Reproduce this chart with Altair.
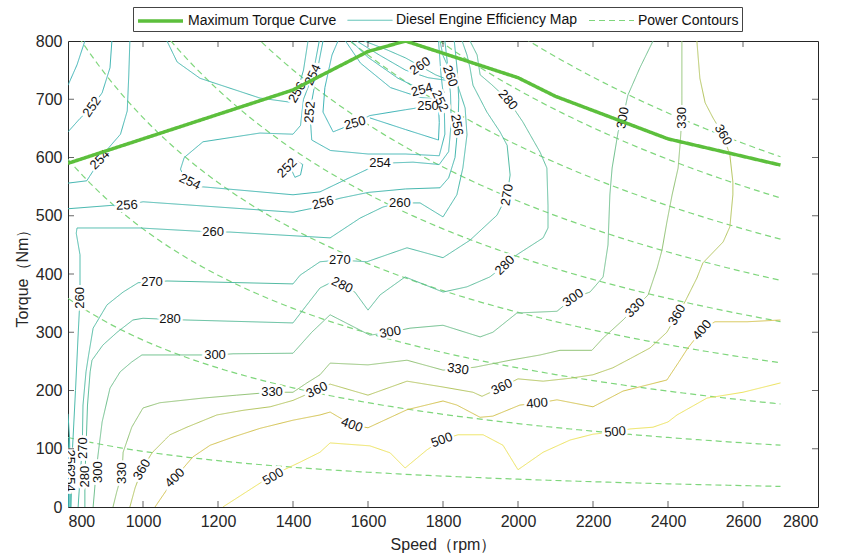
import altair as alt
import pandas as pd

# ---------------- axis ticks ----------------
speed_ticks = list(range(800, 2801, 200))
torque_ticks = list(range(0, 801, 100))

# ---------------- maximum torque curve ----------------
max_speed = [800, 1400, 1600, 1700, 2000, 2100, 2400, 2700]
max_torque = [590, 716, 782, 800, 737, 705, 632, 587]

# ---------------- constant power lines (kW) ----------------
power_levels = [10, 30, 50, 70, 90, 110, 130, 150, 170]
power_speed = list(range(800, 2701, 20))

# ---------------- BSFC contour lines (g/kWh): (speed rpm, torque Nm) ----------------
c250a = [(1520, 800), (1504, 776), (1485, 720), (1480, 678), (1507, 644), (1565, 659), (1605, 672),
         (1700, 682), (1760, 688), (1788, 690), (1790, 660), (1788, 630), (1700, 648), (1605, 668)]
c250b = [(800, 724), (824, 759), (845, 800)]

c252a = [(917, 800), (912, 754), (891, 711), (864, 687), (832, 667), (800, 644)]
c252b = [(1480, 800), (1462, 740), (1445, 678), (1450, 630), (1500, 612), (1600, 606), (1700, 606),
         (1790, 603), (1805, 640), (1803, 697), (1795, 740), (1788, 800)]
c252c = [(1398, 576), (1410, 594), (1426, 588), (1420, 570), (1405, 566), (1398, 576)]
c252d = [(1540, 800), (1580, 762), (1660, 720), (1740, 703), (1790, 700)]
c252e = [(801, 0), (801, 40), (800, 70)]

c254a = [(800, 556), (850, 560), (868, 578), (885, 596), (905, 614), (940, 640), (958, 680), (962, 740), (965, 800)]
c254b = [(1470, 800), (1453, 742), (1428, 700), (1420, 655), (1400, 640), (1312, 642), (1160, 627), (1110, 600),
         (1100, 580), (1110, 565), (1125, 558), (1150, 550), (1171, 549), (1400, 536), (1472, 541), (1540, 562),
         (1632, 590), (1720, 592), (1790, 588), (1815, 610), (1822, 660), (1820, 710), (1812, 760), (1805, 800)]
c254c = [(1555, 800), (1600, 772), (1680, 736), (1744, 716), (1805, 712)]
c254d = [(803, 0), (803, 50), (801, 100), (800, 120)]

c256a = [(800, 512), (920, 518), (957, 518), (1000, 524), (1400, 506), (1453, 513), (1480, 522), (1525, 530),
         (1600, 540), (1700, 546), (1792, 548), (1815, 565), (1832, 600), (1840, 656), (1842, 700), (1838, 750),
         (1830, 800)]
c256b = [(1064, 800), (1091, 764), (1152, 736), (1312, 702), (1392, 695), (1411, 712), (1428, 750), (1440, 800)]
c256c = [(1570, 800), (1630, 776), (1700, 750), (1760, 737), (1836, 730)]
c256d = [(806, 0), (806, 60), (804, 120), (800, 160)]

c260a = [(808, 0), (812, 100), (820, 200), (827, 295), (832, 359), (832, 433), (822, 470), (824, 479), (992, 479),
         (1187, 472), (1232, 472), (1472, 463), (1499, 462), (1579, 496), (1640, 515), (1685, 522), (1739, 522),
         (1800, 498), (1837, 536), (1853, 582), (1864, 639), (1859, 685), (1840, 722), (1819, 748), (1800, 775),
         (1792, 800)]
c260b = [(1590, 800), (1650, 785), (1700, 771), (1739, 757), (1780, 742), (1835, 728)]

c270 = [(827, 0), (832, 50), (838, 101), (840, 175), (848, 232), (855, 261), (867, 307), (904, 347), (947, 369),
        (987, 385), (1024, 386), (1064, 388), (1400, 383), (1419, 398), (1472, 421), (1525, 424), (1597, 421),
        (1704, 445), (1800, 428), (1872, 458), (1944, 501), (1971, 535), (1979, 570), (1971, 621), (1952, 644),
        (1917, 678), (1880, 724), (1872, 754), (1864, 776), (1851, 800)]

c280 = [(845, 0), (845, 52), (848, 100), (852, 175), (859, 232), (864, 252), (893, 278), (931, 300), (973, 321),
        (1000, 324), (1072, 322), (1117, 321), (1400, 316), (1437, 347), (1472, 376), (1500, 385), (1531, 381),
        (1565, 369), (1600, 338), (1632, 364), (1699, 395), (1800, 369), (1864, 378), (1925, 395), (1965, 415),
        (1997, 433), (2067, 462), (2080, 479), (2080, 518), (2077, 582), (2059, 609), (2013, 661), (1973, 699),
        (1930, 725), (1899, 742), (1891, 776), (1872, 800)]

c300 = [(867, 0), (875, 60), (880, 89), (891, 146), (912, 204), (939, 232), (970, 249), (997, 261), (1192, 261),
        (1240, 263), (1400, 264), (1450, 300), (1499, 330), (1605, 295), (1659, 300), (1712, 307), (1800, 312),
        (1899, 292), (1933, 300), (1997, 333), (2104, 336), (2147, 359), (2192, 369), (2227, 395), (2240, 450),
        (2245, 536), (2251, 582), (2267, 644), (2280, 668), (2293, 707), (2325, 754), (2360, 800)]

c330 = [(920, 0), (930, 26), (944, 58), (947, 94), (970, 137), (1000, 170), (1045, 179), (1160, 187), (1250, 192),
        (1344, 197), (1400, 197), (1437, 213), (1472, 227), (1499, 247), (1600, 244), (1704, 252), (1800, 235),
        (1840, 237), (1885, 240), (1979, 252), (2059, 261), (2112, 269), (2197, 269), (2227, 290), (2280, 321),
        (2312, 342), (2347, 364), (2371, 410), (2384, 441), (2397, 489), (2411, 536), (2427, 582), (2432, 621),
        (2437, 668), (2437, 707), (2437, 800)]

c360 = [(965, 0), (979, 33), (997, 64), (1024, 93), (1072, 124), (1117, 137), (1197, 158), (1267, 166),
        (1339, 172), (1400, 183), (1464, 201), (1499, 211), (1600, 192), (1704, 216), (1800, 206), (1880, 197),
        (1904, 190), (1957, 206), (2000, 220), (2067, 216), (2139, 221), (2200, 227), (2253, 239), (2300, 255),
        (2352, 273), (2397, 300), (2424, 330), (2445, 352), (2477, 393), (2493, 419), (2547, 455), (2565, 481),
        (2573, 536), (2573, 558), (2565, 604), (2547, 639), (2520, 668), (2499, 694), (2485, 736), (2477, 800)]

c400 = [(1032, 0), (1085, 50), (1133, 86), (1179, 106), (1240, 120), (1312, 135), (1400, 149), (1472, 158),
        (1499, 163), (1557, 141), (1600, 136), (1704, 167), (1800, 182), (1837, 175), (1899, 154), (1933, 156),
        (2005, 175), (2051, 178), (2104, 184), (2200, 172), (2280, 199), (2397, 218), (2430, 250), (2453, 273),
        (2491, 304), (2525, 318), (2611, 318), (2700, 321)]

c500 = [(1213, 0), (1312, 41), (1347, 55), (1419, 77), (1472, 94), (1499, 110), (1605, 105), (1659, 93),
        (1699, 67), (1757, 98), (1797, 115), (1840, 124), (1907, 124), (1960, 106), (2000, 64), (2067, 94),
        (2139, 115), (2200, 125), (2259, 129), (2299, 134), (2360, 137), (2400, 146), (2424, 158), (2504, 187),
        (2600, 197), (2700, 213)]

contour_segments = [
    (250, c250a), (250, c250b),
    (252, c252a), (252, c252b), (252, c252c), (252, c252d), (252, c252e),
    (254, c254a), (254, c254b), (254, c254c), (254, c254d),
    (256, c256a), (256, c256b), (256, c256c), (256, c256d),
    (260, c260a), (260, c260b),
    (270, c270), (280, c280), (300, c300), (330, c330), (360, c360), (400, c400), (500, c500),
]

levels = [250, 252, 254, 256, 260, 270, 280, 300, 330, 360, 400, 500]
level_colors = ["#3bb3b6", "#3db4b3", "#3fb5b0", "#42b6ad", "#46b8a9", "#4fbaa2", "#5abc9a",
                "#6ebf8c", "#91c274", "#b4c55e", "#d3c24d", "#ede35c"]

# contour labels: text, speed, torque, rotation (deg, clockwise)
labels = [
    ("252", 864, 687, -55), ("254", 885, 596, -45), ("256", 1411, 712, -60), ("254", 1453, 742, -65),
    ("252", 1445, 678, -85), ("252", 1384, 582, -45), ("254", 1125, 558, 25), ("256", 957, 518, -3),
    ("260", 1187, 472, 0), ("270", 1024, 386, 0), ("280", 1072, 322, 0), ("300", 1192, 261, 0),
    ("330", 1344, 197, 0), ("360", 1464, 201, -25), ("400", 1557, 141, 20), ("500", 1797, 115, -20),
    ("330", 1840, 237, 8), ("360", 1957, 206, -25), ("400", 2051, 178, -5), ("500", 2259, 129, -5),
    ("400", 2491, 304, -50), ("360", 2424, 330, -60), ("330", 2312, 342, -45), ("300", 2147, 359, -35),
    ("300", 1659, 300, -10), ("280", 1531, 381, 25), ("270", 1525, 424, 0), ("280", 1965, 415, -45),
    ("270", 1971, 536, -80), ("280", 1973, 699, 50), ("260", 1685, 522, 0), ("256", 1480, 522, -15),
    ("254", 1632, 590, 0), ("250", 1565, 659, -15), ("250", 1760, 688, 0), ("254", 1744, 716, -15),
    ("260", 1739, 757, -35), ("260", 1819, 740, 70), ("252", 1792, 697, 65), ("256", 1837, 656, 80),
    ("300", 2280, 668, -80), ("330", 2437, 668, -90), ("360", 2547, 639, 60), ("260", 832, 359, -90),
    ("270", 840, 101, -90), ("280", 845, 52, -90), ("300", 880, 60, -90), ("330", 944, 58, -90),
    ("360", 997, 64, -60), ("400", 1085, 50, -45), ("500", 1347, 52, -30), ("256", 806, 80, 90),
    ("254", 804, 45, 90),
]

# ---------------- tables ----------------
MAX_NAME = "Maximum Torque Curve"
MAP_NAME = "Diesel Engine Efficiency Map"
POW_NAME = "Power Contours"

rows = []
for seg_id, (lvl, pts) in enumerate(contour_segments):
    for i, (s, t) in enumerate(pts):
        rows.append({"speed": s, "torque": t, "key": str(lvl), "seg": f"c{seg_id}", "i": i})
contour_df = pd.DataFrame(rows)

rows = []
for p in power_levels:
    for i, n in enumerate(power_speed):
        rows.append({"speed": n, "torque": p * 9550.0 / n, "key": POW_NAME, "seg": f"p{p}", "i": i})
power_df = pd.DataFrame(rows)

max_df = pd.DataFrame({"speed": max_speed, "torque": max_torque, "key": MAX_NAME,
                       "seg": "max", "i": range(len(max_speed))})

label_df = pd.DataFrame(labels, columns=["text", "speed", "torque", "angle"])
label_df["angle"] = label_df["angle"] % 360

# ---------------- shared encodings ----------------
key_domain = [MAX_NAME, MAP_NAME, POW_NAME] + [str(l) for l in levels]
key_colors = ["#5cbf3c", "#46b8a9", "#7fd67c"] + level_colors
key_dash = [[1, 0], [1, 0], [6, 4]] + [[1, 0]] * len(levels)
key_width = [3.5, 1.0, 1.2] + [1.0] * len(levels)
legend_vals = [MAX_NAME, MAP_NAME, POW_NAME]

x_enc = alt.X("speed:Q", scale=alt.Scale(domain=[800, 2800], nice=False),
              axis=alt.Axis(values=speed_ticks, title="Speed（rpm）", ticks=False, domain=False,
                            grid=False, labelPadding=6, titlePadding=7, format="d"))
y_enc = alt.Y("torque:Q", scale=alt.Scale(domain=[0, 800], nice=False),
              axis=alt.Axis(values=torque_ticks, title="Torque（Nm）", ticks=False, domain=False,
                            grid=False, labelPadding=6, titlePadding=5, format="d"))

legend = alt.Legend(values=legend_vals, title=None)
color_enc = alt.Color("key:N", scale=alt.Scale(domain=key_domain, range=key_colors), legend=legend)
dash_enc = alt.StrokeDash("key:N", scale=alt.Scale(domain=key_domain, range=key_dash), legend=legend)
width_enc = alt.StrokeWidth("key:N", scale=alt.Scale(type="ordinal", domain=key_domain, range=key_width),
                            legend=legend)


def lines(df):
    return alt.Chart(df).mark_line(clip=True).encode(
        x=x_enc, y=y_enc, color=color_enc, strokeDash=dash_enc, strokeWidth=width_enc,
        detail="seg:N", order="i:Q")


contours = lines(contour_df)
power = lines(power_df)
max_curve = lines(max_df)

halo = alt.Chart(label_df).mark_text(fontSize=13, font="Liberation Sans", stroke="white",
                                     strokeWidth=5, fill="white", clip=True).encode(
    x=alt.X("speed:Q"), y=alt.Y("torque:Q"), text="text:N", angle=alt.Angle("angle:Q", scale=None))
text = alt.Chart(label_df).mark_text(fontSize=13, font="Liberation Sans", color="#111111",
                                     clip=True).encode(
    x=alt.X("speed:Q"), y=alt.Y("torque:Q"), text="text:N", angle=alt.Angle("angle:Q", scale=None))

# inward-pointing tick marks on all four sides of the box
sx = pd.DataFrame({"v": speed_ticks[1:-1]})
ty = pd.DataFrame({"v": torque_ticks[1:-1]})
tick_style = dict(thickness=1, size=12, color="#262626", clip=True)
tick_bottom = alt.Chart(sx).mark_tick(orient="vertical", **tick_style).encode(x="v:Q", y=alt.datum(0))
tick_top = alt.Chart(sx).mark_tick(orient="vertical", **tick_style).encode(x="v:Q", y=alt.datum(800))
tick_left = alt.Chart(ty).mark_tick(orient="horizontal", **tick_style).encode(y="v:Q", x=alt.datum(800))
tick_right = alt.Chart(ty).mark_tick(orient="horizontal", **tick_style).encode(y="v:Q", x=alt.datum(2800))

chart = alt.layer(
    power, contours, halo, text, max_curve, tick_bottom, tick_top, tick_left, tick_right
).properties(
    width=750, height=466,
    autosize=alt.AutoSizeParams(type="none"),
    padding={"left": 68, "top": 41, "right": 30, "bottom": 53},
).configure_view(
    stroke="#262626", strokeWidth=1
).configure_axis(
    labelFont="Liberation Sans", labelFontSize=16, labelColor="#262626",
    titleFont="Liberation Sans", titleFontSize=16, titleColor="#262626", titleFontWeight="normal"
).configure_legend(
    orient="none", legendX=65, legendY=-34, direction="horizontal",
    strokeColor="#444444", fillColor="white", padding=3, cornerRadius=0,
    labelFont="Liberation Sans", labelFontSize=14, labelColor="#111111", labelLimit=300,
    symbolType="M-1,0H4", symbolSize=324, columnPadding=8, labelOffset=30,
)

chart.save("out.html", embed_options={"renderer": "svg", "actions": False})
